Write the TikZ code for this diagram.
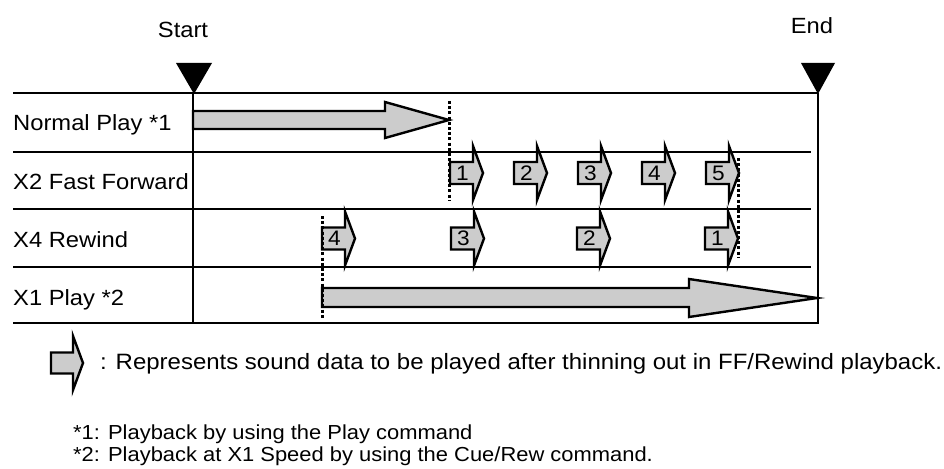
\documentclass[tikz,border=0pt]{standalone}
\usepackage{fontspec}
\setmainfont{Liberation Sans}[FakeStretch=1.08]
\definecolor{arrowgray}{HTML}{CCCCCC}
\tikzset{
  lbl/.style={anchor=base west, inner sep=0pt, font=\fontsize{22}{26}\selectfont},
  ctxt/.style={anchor=base, inner sep=0pt, font=\fontsize{22}{26}\selectfont},
  fntxt/.style={anchor=base west, inner sep=0pt, font=\fontsize{20.3}{24}\selectfont},
  numtxt/.style={inner sep=0pt, font=\fontsize{21}{24}\selectfont},
  hrule/.style={line width=2.8pt},
  vrule/.style={line width=2.2pt},
  arrowline/.style={fill=arrowgray, draw=black, line width=2.4pt, line join=miter},
  dotline/.style={line width=3pt, dash pattern=on 3pt off 2.2pt},
  marker/.style={fill=black},
  pics/arrowshape/.style={code={
    \draw[arrowline] (0,-10.5) -- (22,-10.5) -- (22,-27) -- (32,0) -- (22,27) -- (22,10.5) -- (0,10.5) -- cycle;
  }},
  pics/sarrow/.style={code={
    \draw[arrowline] (0,-11) -- (23,-11) -- (23,-27) -- (33,0) -- (23,27) -- (23,11) -- (0,11) -- cycle;
    \node[numtxt] (-n) at (12.5,0) {#1};
  }}
}
\begin{document}
\begin{tikzpicture}[x=1pt,y=-1pt]
\useasboundingbox (0,0) rectangle (944,468);

% markers
\node[ctxt] (start) at (183,38) {Start};
\node[ctxt] (end) at (812,34) {End};
\fill[marker] (176,63) -- (212,63) -- (194,94) -- cycle;
\fill[marker] (801,63) -- (835,63) -- (818,94) -- cycle;

% grid
\draw[hrule] (13,93) -- (818,93);
\draw[hrule] (13,152) -- (811,152);
\draw[hrule] (13,209) -- (811,209);
\draw[hrule] (13,267) -- (811,267);
\draw[hrule] (13,323) -- (819,323);
\draw[vrule] (193,93) -- (193,324);
\draw[vrule] (818,93) -- (818,324);

% row labels
\node[lbl] (r1) at (13,131) {Normal Play *1};
\node[lbl] (r2) at (13,189) {X2 Fast Forward};
\node[lbl] (r3) at (13,247) {X4 Rewind};
\node[lbl] (r4) at (13,305) {X1 Play *2};

% big arrows
\draw[arrowline] (193,111) -- (385,111) -- (385,102) -- (449,120) -- (385,138) -- (385,129) -- (193,129) -- cycle;
\draw[arrowline] (322,288) -- (689,288) -- (689,279) -- (817,298) -- (689,317) -- (689,307) -- (322,307) -- cycle;

% fast forward
\pic (ff1) at (450,173) {sarrow=1};
\pic (ff2) at (514,173) {sarrow=2};
\pic (ff3) at (578,173) {sarrow=3};
\pic (ff4) at (642,173) {sarrow=4};
\pic (ff5) at (706,173) {sarrow=5};

% rewind
\pic (rw4) at (322,238.5) {sarrow=4};
\pic (rw3) at (451,238.5) {sarrow=3};
\pic (rw2) at (577,238.5) {sarrow=2};
\pic (rw1) at (705,238.5) {sarrow=1};

% dotted markers
\draw[dotline] (449,101) -- (449,200);
\draw[dotline] (738,158) -- (738,258);
\draw[dotline] (322,216) -- (322,318);

% legend
\pic (leg) at (51,363) {arrowshape};
\node[lbl, font=\fontsize{22.2}{26}\selectfont] (legtxt) at (100,369) {: Represents sound data to be played after thinning out in FF/Rewind playback.};
\node[fntxt] (fn1) at (73,439) {*1: Playback by using the Play command};
\node[fntxt] (fn2) at (73,461) {*2: Playback at X1 Speed by using the Cue/Rew command.};
\end{tikzpicture}
\end{document}
